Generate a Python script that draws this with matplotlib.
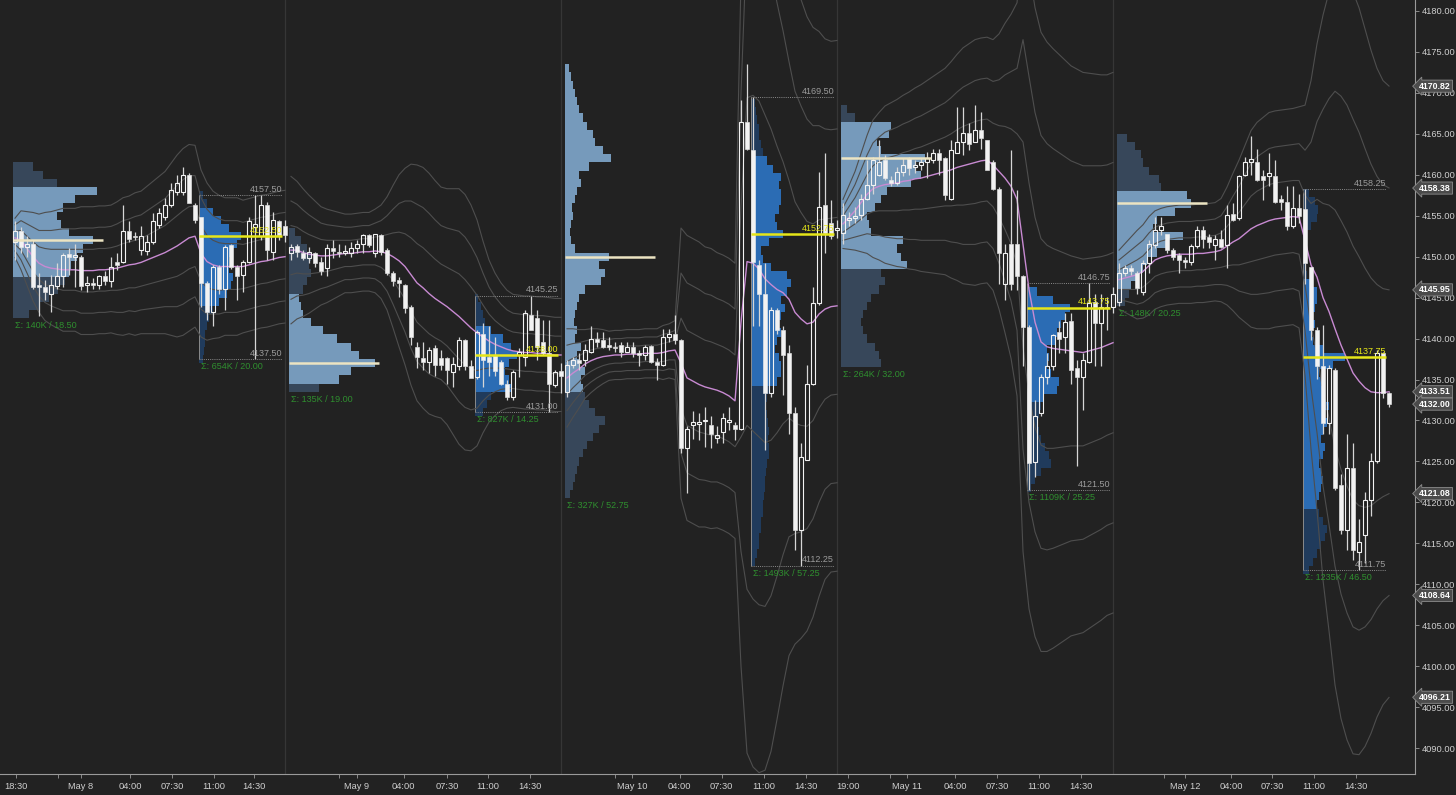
#!/usr/bin/env python3
"""
ES 30-minute chart, May 8 - May 12, with session volume profiles,
VWAP line and +/-1,2,3 deviation bands.
"""

import numpy as np
import matplotlib
matplotlib.use("Agg")
import matplotlib.pyplot as plt
from matplotlib.ticker import FormatStrFormatter

plt.rcParams['font.family'] = ['Liberation Sans', 'DejaVu Sans']

# ---------------------------------------------------------------- candles
# one bar every 30 min, bar index 0 = first bar of May 8 globex session
opens = [
    4151.8, 4153.1, 4151.2, 4151.6, 4146.5, 4146.3, 4145.5, 4146.4, 4147.6, 4150.3,
    4150.0, 4150.0, 4146.6, 4146.8, 4146.5, 4147.6, 4147.0, 4149.3, 4149.4, 4153.1,
    4152.5, 4150.8, 4150.7, 4151.8, 4153.9, 4154.9, 4156.3, 4157.9, 4157.9, 4160.0,
    4156.3, 4154.9, 4146.8, 4143.3, 4148.8, 4146.1, 4151.4, 4148.8, 4147.8, 4149.4,
    4153.6, 4152.5, 4156.3, 4150.6, 4154.3, 4153.7,
    4150.4, 4151.3, 4150.4, 4149.8, 4150.4, 4149.4, 4148.6, 4151.0, 4150.6, 4150.5,
    4150.4, 4151.0, 4151.6, 4152.6, 4150.4, 4152.6, 4150.8, 4148.0, 4147.2, 4146.5,
    4143.9, 4139.0, 4137.6, 4137.2, 4138.8, 4137.6, 4137.6, 4135.9, 4136.6, 4139.8,
    4136.6, 4135.3, 4140.6, 4137.8, 4138.0, 4137.2, 4134.5, 4132.9, 4138.0, 4137.8,
    4142.9, 4142.5, 4139.6, 4138.2, 4134.3, 4136.1,
    4133.5, 4136.8, 4137.4, 4137.4, 4138.4, 4140.0, 4139.8, 4139.2, 4139.0, 4139.2,
    4138.4, 4139.0, 4138.2, 4138.0, 4139.1, 4137.2, 4136.8, 4140.2, 4140.6, 4139.8,
    4126.6, 4129.4, 4129.6, 4129.9, 4129.4, 4127.9, 4128.6, 4129.8, 4129.4, 4129.0,
    4166.5, 4163.0, 4149.0, 4145.5, 4133.3, 4143.5, 4141.1, 4138.2, 4130.9, 4116.6,
    4125.2, 4134.5, 4144.3, 4156.3, 4154.1, 4153.3,
    4152.9, 4154.5, 4154.7, 4155.1, 4157.1, 4158.7, 4160.0, 4161.8, 4159.4, 4159.0,
    4160.4, 4162.0, 4161.0, 4161.2, 4161.6, 4161.8, 4162.6, 4162.0, 4157.1, 4162.6,
    4164.0, 4165.1, 4164.0, 4165.5, 4164.2, 4161.6, 4158.3, 4146.7, 4151.6, 4151.6,
    4147.6, 4141.4, 4124.9, 4130.9, 4135.3, 4136.6, 4140.8, 4140.2, 4142.2, 4136.4,
    4135.3, 4137.2, 4144.5, 4141.9, 4143.9, 4143.9,
    4144.5, 4148.0, 4148.6, 4148.0, 4145.7, 4149.2, 4151.4, 4153.3, 4152.8, 4150.8,
    4150.2, 4149.6, 4149.3, 4151.3, 4153.3, 4152.4, 4151.4, 4152.2, 4151.4, 4155.2,
    4154.7, 4160.0, 4161.6, 4161.6, 4159.8, 4159.8, 4159.8, 4157.1, 4156.7, 4153.7,
    4155.9, 4155.8, 4148.8, 4141.0, 4136.6, 4129.7, 4136.2, 4122.1, 4116.6, 4124.2,
    4114.0, 4116.0, 4120.3, 4125.0, 4138.2, 4133.3,
]
highs = [
    4154.3, 4153.6, 4152.5, 4152.0, 4148.0, 4147.2, 4147.8, 4149.2, 4150.4, 4151.0,
    4151.6, 4150.2, 4147.6, 4147.4, 4147.8, 4148.2, 4150.0, 4150.4, 4156.3, 4154.3,
    4153.0, 4153.7, 4152.7, 4155.3, 4156.0, 4157.2, 4159.0, 4160.0, 4161.0, 4160.2,
    4156.5, 4154.9, 4147.0, 4149.0, 4149.0, 4151.4, 4151.6, 4149.0, 4149.6, 4154.9,
    4157.5, 4157.5, 4156.7, 4155.5, 4154.5, 4154.5,
    4151.6, 4151.6, 4150.8, 4151.2, 4150.6, 4150.0, 4151.6, 4152.0, 4151.6, 4151.4,
    4151.8, 4152.0, 4152.8, 4152.8, 4152.8, 4152.8, 4151.0, 4148.2, 4147.5, 4146.7,
    4144.1, 4139.6, 4139.6, 4139.0, 4139.2, 4138.6, 4137.8, 4137.8, 4140.2, 4140.0,
    4137.4, 4141.0, 4141.9, 4141.5, 4140.2, 4137.4, 4134.9, 4136.2, 4138.9, 4143.5,
    4145.25, 4143.5, 4142.3, 4142.3, 4136.2, 4137.0,
    4137.4, 4137.8, 4138.2, 4139.4, 4141.5, 4140.8, 4140.8, 4140.2, 4139.6, 4139.6,
    4139.6, 4139.6, 4138.6, 4139.2, 4139.2, 4137.6, 4141.2, 4141.2, 4142.9, 4140.0,
    4129.3, 4131.1, 4130.9, 4131.7, 4130.5, 4129.3, 4130.9, 4131.7, 4129.8, 4169.1,
    4173.5, 4169.5, 4149.6, 4149.2, 4143.9, 4143.7, 4141.5, 4139.2, 4131.7, 4127.2,
    4136.8, 4146.3, 4160.4, 4162.6, 4156.9, 4154.5,
    4156.5, 4155.5, 4156.1, 4157.7, 4161.8, 4162.2, 4164.2, 4162.4, 4159.8, 4161.0,
    4162.0, 4162.2, 4161.8, 4162.0, 4162.8, 4163.2, 4163.2, 4162.2, 4164.2, 4168.3,
    4168.3, 4166.3, 4168.5, 4167.7, 4164.3, 4161.8, 4158.5, 4151.6, 4163.0, 4158.1,
    4147.8, 4141.6, 4132.5, 4135.7, 4138.2, 4140.6, 4142.2, 4143.1, 4143.1, 4137.4,
    4138.2, 4146.75, 4145.5, 4145.5, 4145.1, 4146.3,
    4149.2, 4149.0, 4149.0, 4148.2, 4149.6, 4152.0, 4154.9, 4154.9, 4152.8, 4151.0,
    4150.4, 4150.0, 4151.6, 4153.7, 4153.7, 4152.8, 4152.6, 4153.3, 4156.3, 4156.5,
    4160.0, 4162.2, 4164.7, 4163.2, 4160.6, 4162.6, 4161.8, 4157.5, 4158.6, 4158.6,
    4157.7, 4158.25, 4148.8, 4141.4, 4141.6, 4136.8, 4136.4, 4123.5, 4128.4, 4127.2,
    4118.0, 4121.3, 4126.0, 4138.6, 4138.4, 4133.5,
]
lows = [
    4149.6, 4150.5, 4150.0, 4146.1, 4142.7, 4144.7, 4143.3, 4146.1, 4146.3, 4147.8,
    4146.3, 4145.9, 4145.7, 4146.0, 4146.1, 4146.5, 4146.3, 4148.4, 4149.2, 4151.8,
    4152.0, 4150.2, 4150.2, 4151.6, 4153.5, 4154.5, 4156.1, 4157.5, 4157.5, 4156.5,
    4154.1, 4143.9, 4142.3, 4141.5, 4145.5, 4143.5, 4148.5, 4144.7, 4145.7, 4149.2,
    4137.5, 4152.0, 4149.6, 4149.6, 4152.0, 4151.8,
    4149.6, 4150.0, 4149.6, 4149.2, 4148.8, 4147.8, 4147.6, 4149.8, 4150.0, 4150.2,
    4150.0, 4150.4, 4150.4, 4151.2, 4150.0, 4150.2, 4147.8, 4146.4, 4145.1, 4143.1,
    4139.2, 4136.4, 4136.2, 4135.8, 4135.4, 4136.2, 4134.5, 4134.1, 4136.2, 4136.2,
    4135.2, 4135.1, 4134.1, 4135.4, 4135.4, 4134.3, 4132.5, 4132.5, 4135.3, 4136.6,
    4141.1, 4137.4, 4138.0, 4131.0, 4134.1, 4133.3,
    4132.9, 4136.4, 4136.2, 4136.6, 4138.2, 4139.0, 4138.8, 4138.6, 4138.4, 4137.8,
    4138.4, 4137.8, 4136.6, 4137.4, 4137.0, 4135.0, 4136.6, 4139.6, 4139.4, 4126.0,
    4121.1, 4127.8, 4127.6, 4126.8, 4126.6, 4127.2, 4127.2, 4128.8, 4127.6, 4128.8,
    4163.0, 4141.5, 4141.5, 4126.4, 4132.9, 4140.6, 4133.1, 4128.4, 4114.2, 4112.25,
    4125.2, 4134.3, 4144.1, 4150.4, 4152.1, 4152.3,
    4151.6, 4153.7, 4154.1, 4154.5, 4156.9, 4157.7, 4159.8, 4159.4, 4158.6, 4158.8,
    4159.9, 4160.0, 4160.2, 4160.6, 4159.6, 4161.4, 4160.0, 4156.9, 4156.9, 4162.6,
    4162.4, 4163.0, 4164.0, 4163.2, 4160.6, 4158.1, 4146.7, 4144.7, 4145.9, 4145.9,
    4136.6, 4121.5, 4123.1, 4130.5, 4134.5, 4136.2, 4138.2, 4138.2, 4134.5, 4124.4,
    4131.3, 4137.0, 4136.6, 4136.6, 4141.0, 4143.1,
    4144.0, 4147.6, 4147.8, 4145.5, 4145.3, 4148.0, 4151.0, 4152.6, 4150.4, 4149.6,
    4148.0, 4148.6, 4149.0, 4151.0, 4151.0, 4151.0, 4149.6, 4151.0, 4148.6, 4154.3,
    4154.5, 4159.8, 4160.0, 4159.2, 4156.9, 4158.6, 4156.5, 4155.7, 4153.3, 4153.5,
    4154.1, 4146.7, 4139.8, 4135.1, 4128.4, 4128.4, 4121.5, 4116.2, 4114.2, 4113.0,
    4111.75, 4112.6, 4118.3, 4124.8, 4132.7, 4131.7,
]
closes = [
    4153.1, 4151.2, 4151.6, 4146.3, 4146.3, 4145.7, 4146.5, 4147.6, 4150.2, 4150.0,
    4150.2, 4146.4, 4146.8, 4146.5, 4147.6, 4147.0, 4148.8, 4149.0, 4153.1, 4152.2,
    4152.4, 4152.5, 4151.8, 4154.3, 4155.3, 4156.3, 4158.1, 4159.0, 4160.0, 4156.5,
    4154.5, 4146.8, 4143.3, 4148.8, 4146.0, 4151.2, 4148.8, 4147.6, 4149.4, 4154.3,
    4154.0, 4156.3, 4150.8, 4154.5, 4152.7, 4152.7,
    4151.2, 4150.6, 4149.8, 4150.6, 4149.2, 4148.2, 4151.0, 4150.7, 4150.4, 4150.7,
    4151.0, 4151.6, 4152.6, 4151.4, 4152.8, 4150.6, 4148.0, 4147.0, 4146.8, 4143.7,
    4140.2, 4137.8, 4137.2, 4138.6, 4136.8, 4136.8, 4136.2, 4136.9, 4139.8, 4136.6,
    4135.2, 4140.8, 4137.4, 4137.2, 4136.0, 4134.5, 4132.9, 4135.9, 4138.4, 4143.1,
    4141.1, 4139.0, 4138.2, 4134.5, 4135.9, 4135.4,
    4136.8, 4137.4, 4137.0, 4138.6, 4140.0, 4139.6, 4139.0, 4139.0, 4138.8, 4138.4,
    4139.0, 4138.2, 4138.0, 4139.0, 4137.2, 4136.8, 4140.2, 4140.6, 4139.8, 4126.6,
    4129.0, 4129.8, 4129.8, 4130.0, 4128.4, 4128.2, 4130.3, 4130.0, 4129.0, 4166.5,
    4163.2, 4149.4, 4145.5, 4133.3, 4143.5, 4141.1, 4138.0, 4130.9, 4116.6, 4125.6,
    4134.5, 4144.3, 4156.1, 4152.9, 4152.5, 4153.5,
    4155.1, 4154.7, 4155.0, 4157.1, 4158.7, 4161.8, 4161.6, 4159.6, 4159.0, 4160.4,
    4161.2, 4160.8, 4161.2, 4161.6, 4162.0, 4162.6, 4161.8, 4157.5, 4163.0, 4164.0,
    4165.1, 4163.8, 4165.5, 4164.5, 4160.6, 4158.3, 4150.4, 4150.4, 4146.7, 4147.6,
    4141.4, 4124.8, 4130.5, 4135.3, 4136.6, 4140.4, 4140.0, 4142.0, 4136.2, 4135.3,
    4137.4, 4144.3, 4141.9, 4143.9, 4143.7, 4145.5,
    4148.0, 4148.6, 4148.2, 4146.2, 4149.2, 4151.6, 4153.3, 4153.8, 4150.8, 4150.0,
    4149.6, 4149.3, 4151.3, 4153.3, 4152.2, 4151.8, 4152.2, 4151.2, 4155.1, 4154.5,
    4159.8, 4161.6, 4161.9, 4159.4, 4159.4, 4160.2, 4156.7, 4156.7, 4153.7, 4155.9,
    4155.0, 4149.2, 4141.0, 4136.6, 4129.7, 4136.4, 4121.7, 4116.6, 4124.2, 4114.2,
    4115.2, 4120.3, 4125.0, 4138.2, 4133.3, 4132.0,
]

# ---------------------------------------------------------------- vwap + bands
vwap = [
    4152.3, 4152.0, 4151.0, 4150.0, 4149.2, 4148.8, 4148.6, 4148.5, 4148.4, 4148.4,
    4148.4, 4148.3, 4148.3, 4148.3, 4148.4, 4148.4, 4148.5, 4148.6, 4148.8, 4149.0,
    4149.1, 4149.3, 4149.6, 4149.9, 4150.2, 4150.5, 4150.9, 4151.3, 4151.8, 4152.3,
    4152.5, 4150.4, 4149.4, 4149.0, 4148.8, 4148.8, 4148.8, 4148.8, 4148.8, 4149.0,
    4149.2, 4149.4, 4149.5, 4149.7, 4149.9, 4150.0,
    4150.8, 4150.8, 4150.5, 4150.3, 4150.2, 4150.1, 4150.1, 4150.2, 4150.3, 4150.4,
    4150.4, 4150.5, 4150.6, 4150.6, 4150.7, 4150.6, 4150.4, 4150.0, 4149.5, 4148.8,
    4147.8, 4146.8, 4146.2, 4145.5, 4144.9, 4144.4, 4143.9, 4143.3, 4142.7, 4142.0,
    4141.3, 4140.7, 4140.2, 4139.7, 4139.3, 4139.0, 4138.7, 4138.5, 4138.4, 4138.3,
    4138.3, 4138.2, 4138.2, 4138.1, 4138.0, 4138.0,
    4135.2, 4135.8, 4136.3, 4136.9, 4137.3, 4137.6, 4137.8, 4137.9, 4138.0, 4138.0,
    4138.1, 4138.1, 4138.1, 4138.2, 4138.2, 4138.2, 4138.3, 4138.5, 4138.6, 4137.0,
    4135.2, 4134.8, 4134.4, 4134.1, 4133.9, 4133.7, 4133.4, 4133.0, 4132.4, 4142.0,
    4149.4, 4149.2, 4148.5, 4147.3, 4146.6, 4146.0, 4145.6, 4144.8, 4143.2, 4142.4,
    4141.8, 4142.0, 4143.0, 4143.6, 4143.9, 4144.0,
    4154.0, 4154.8, 4155.6, 4156.6, 4157.6, 4158.3, 4158.6, 4158.8, 4158.9, 4159.0,
    4159.2, 4159.3, 4159.5, 4159.6, 4159.8, 4160.0, 4160.2, 4160.4, 4160.6, 4160.9,
    4161.1, 4161.3, 4161.5, 4161.7, 4161.8, 4161.2, 4160.4, 4159.6, 4158.6, 4157.0,
    4151.5, 4146.0, 4142.0, 4139.6, 4139.0, 4138.8, 4138.7, 4138.6, 4138.5, 4138.4,
    4138.3, 4138.5, 4138.7, 4138.9, 4139.2, 4139.5,
    4147.2, 4147.4, 4147.6, 4147.8, 4148.2, 4148.9, 4149.6, 4149.9, 4150.1, 4150.2,
    4150.3, 4150.3, 4150.3, 4150.4, 4150.4, 4150.5, 4150.6, 4150.8, 4151.3, 4151.8,
    4152.2, 4152.8, 4153.4, 4153.8, 4154.1, 4154.4, 4154.6, 4154.7, 4154.8, 4154.9,
    4154.8, 4152.0, 4149.0, 4147.5, 4145.0, 4143.3, 4141.2, 4139.2, 4137.5, 4135.8,
    4134.8, 4134.0, 4133.5, 4133.4, 4133.4, 4133.51,
]
band_sd = [
    0.8, 1.2, 1.5, 1.8, 2.0, 2.2, 2.3, 2.4, 2.5, 2.5,
    2.5, 2.6, 2.6, 2.6, 2.6, 2.6, 2.6, 2.7, 2.8, 2.8,
    2.9, 2.9, 3.0, 3.1, 3.2, 3.3, 3.5, 3.7, 3.8, 3.8,
    3.7, 3.4, 3.2, 3.0, 2.9, 2.8, 2.8, 2.8, 2.7, 2.7,
    2.7, 2.7, 2.7, 2.7, 2.7, 2.7,
    3.0, 2.8, 2.6, 2.4, 2.2, 2.0, 1.9, 1.8, 1.7, 1.6,
    1.6, 1.6, 1.6, 1.6, 1.7, 1.9, 2.3, 2.9, 3.5, 4.0,
    4.5, 4.8, 4.9, 4.9, 4.8, 4.7, 4.8, 5.0, 5.2, 5.2,
    5.0, 4.6, 3.9, 3.3, 2.9, 2.6, 2.4, 2.3, 2.3, 2.3,
    2.3, 2.3, 2.3, 2.3, 2.3, 2.3,
    2.0, 1.8, 1.6, 1.4, 1.3, 1.2, 1.1, 1.0, 1.0, 1.0,
    1.0, 1.0, 1.0, 1.0, 1.0, 1.0, 1.1, 1.1, 1.2, 5.5,
    5.8, 5.8, 5.8, 5.7, 5.7, 5.6, 5.6, 5.6, 5.6, 14.0,
    20.0, 20.5, 20.5, 20.0, 19.0, 17.5, 16.0, 14.5, 13.5, 13.0,
    12.5, 12.0, 11.5, 11.0, 10.8, 10.8,
    1.0, 1.3, 1.6, 2.0, 2.4, 2.8, 3.0, 3.2, 3.3, 3.4,
    3.5, 3.6, 3.7, 3.8, 3.9, 4.0, 4.1, 4.2, 4.4, 4.6,
    4.8, 4.9, 5.0, 5.0, 5.0, 5.1, 5.6, 6.3, 7.0, 8.0,
    12.5, 13.0, 12.8, 12.6, 12.4, 12.2, 12.0, 11.8, 11.6, 11.5,
    11.4, 11.3, 11.2, 11.1, 11.0, 11.0,
    1.2, 1.4, 1.6, 1.8, 1.9, 2.0, 2.0, 2.0, 2.0, 2.0,
    2.0, 2.0, 2.0, 2.0, 2.0, 2.0, 2.0, 2.1, 2.4, 2.8,
    3.2, 3.6, 4.0, 4.2, 4.3, 4.4, 4.4, 4.4, 4.4, 4.4,
    4.5, 5.5, 7.5, 9.5, 11.5, 13.0, 14.5, 15.2, 15.5, 15.5,
    15.2, 14.6, 13.9, 13.2, 12.7, 12.44,
]

# ---------------------------------------------------------------- sessions
session_start = [0, 46, 92, 138, 184]      # first globex bar of each day
rth_start = [31, 77, 123, 169, 215]        # first RTH bar of each day

# overnight volume profiles (volume per 1-point row, lowest row first)
on_lo = [4143, 4134, 4121, 4137, 4144.5]
on_vol_may8 = [16, 26, 36, 45, 52, 56, 58, 64, 70, 80, 56, 48, 44, 50, 62, 84, 44, 30, 20]
on_vol_may9 = [30, 50, 62, 86, 70, 62, 48, 34, 22, 14, 12, 10, 14, 18, 22, 20, 22, 18, 12, 6]
on_vol_may10 = [5, 8, 10, 12, 14, 18, 22, 28, 34, 40,
                30, 24, 20, 18, 16, 20, 14, 12, 16, 10,
                12, 9, 10, 12, 14, 20, 36, 40, 34, 44,
                10, 6, 5, 6, 8, 7, 10, 12, 16, 14,
                24, 46, 38, 30, 28, 22, 18, 14, 12, 10,
                8, 6, 4]
on_vol_may11 = [40, 38, 34, 26, 22, 20, 22, 26, 30, 38, 44, 40, 66, 60, 56, 62,
                30, 28, 26, 34, 40, 46, 70, 80, 74, 84, 40, 36, 48, 50, 14, 6]
on_vol_may12 = [8, 12, 14, 22, 26, 30, 40, 50, 66, 36, 40, 58, 74, 70, 44, 42, 32, 26, 24, 18, 10]
on_va = [(4148, 4158), (4135, 4145), (4134, 4173), (4149, 4166), (4146.5, 4157.5)]
on_poc = [4152, 4137, 4150, 4162, 4156.5]
on_stats = ["Σ: 140K / 18.50", "Σ: 135K / 19.00", "Σ: 327K / 52.75",
            "Σ: 264K / 32.00", "Σ: 148K / 20.25"]

# regular-hours volume profiles
rth_lo_row = [4137.5, 4131, 4112.75, 4121.75, 4111.75]
rth_vol_may8 = [4, 5, 6, 6, 8, 10, 14, 20, 28, 32, 34, 30, 30, 34, 38, 42, 30, 22, 14, 8, 4]
rth_vol_may9 = [8, 12, 16, 36, 34, 30, 34, 42, 36, 28, 16, 10, 8, 6, 3]
rth_vol_may10 = [4, 6, 8, 8, 10, 10, 12, 12, 13, 14,
                 14, 15, 16, 18, 18, 17, 18, 17, 16, 15,
                 16, 18, 26, 30, 30, 28, 24, 26, 30, 26,
                 30, 34, 30, 36, 40, 36, 20, 12, 10, 18,
                 32, 26, 24, 28, 30, 30, 28, 30, 22, 16,
                 12, 10, 8, 8, 6, 5, 4]
rth_vol_may11 = [4, 8, 14, 24, 22, 18, 14, 12, 10, 12, 14, 16, 30, 32, 24, 20,
                 22, 20, 28, 30, 34, 38, 43, 26, 10]
rth_vol_may12 = [6, 10, 14, 18, 22, 24, 20, 16, 14, 16,
                 18, 20, 18, 16, 20, 22, 18, 20, 24, 22,
                 26, 22, 20, 18, 16, 30, 42, 20, 10, 8,
                 12, 10, 12, 14, 14, 10, 4, 3, 3, 4,
                 3, 4, 8, 14, 15, 12, 6]
rth_va = [(4144.5, 4155.5), (4134, 4141), (4134.75, 4161.75),
          (4132.75, 4145.75), (4119.75, 4146.75)]
rth_poc = [4152.50, 4138.00, 4152.75, 4143.75, 4137.75]
rth_high = [4157.50, 4145.25, 4169.50, 4146.75, 4158.25]
rth_low = [4137.50, 4131.00, 4112.25, 4121.50, 4111.75]
rth_stats = ["Σ: 654K / 20.00", "Σ: 827K / 14.25", "Σ: 1493K / 57.25",
             "Σ: 1109K / 25.25", "Σ: 1235K / 46.50"]

# ---------------------------------------------------------------- axes labels
xtick_pos = [0.2, 7.2, 11, 19.2, 26.2, 33.2, 39.8,
             54, 57, 64.8, 72, 78.8, 85.8,
             100, 102.8, 110.8, 117.8, 124.8, 131.8, 138.8,
             145.8, 148.7, 156.7, 163.7, 170.7, 177.7,
             191.5, 195, 202.7, 209.5, 216.5, 223.5]
xtick_labels = ["18:30", "", "May 8", "04:00", "07:30", "11:00", "14:30",
                "", "May 9", "04:00", "07:30", "11:00", "14:30",
                "", "May 10", "04:00", "07:30", "11:00", "14:30", "19:00",
                "", "May 11", "04:00", "07:30", "11:00", "14:30",
                "", "May 12", "04:00", "07:30", "11:00", "14:30"]
price_tags = [4170.82, 4158.38, 4145.95, 4133.51, 4132.00, 4121.08, 4108.64, 4096.21]

# ---------------------------------------------------------------- style
BG = '#222222'
PX_PER_BAR = 6.0
BOX_LEN = 13.8          # bars covered by the RTH range box
ON_POC_LEN = 15.0
ON_COLORS = ('#769abb', '#37475a')
RTH_COLORS = ('#2b6cb4', '#203b5c')
CANDLE = '#f2f2f2'
WICK = '#d6d6d6'
BAND = '#4e4e4e'
VWAP_C = '#c88ad2'
GREEN = '#2f8f2f'
GREY_TXT = '#9c9c9c'
YELLOW = '#e6e619'


def draw_profile(ax, x0, lo, vols, va, colors):
    """Horizontal volume histogram, value area in the lighter colour."""
    levels = lo + np.arange(len(vols))
    widths = np.asarray(vols, float) / PX_PER_BAR
    in_va = (levels >= va[0]) & (levels <= va[1])
    ax.barh(levels[in_va], widths[in_va], height=1.0, left=x0,
            color=colors[0], linewidth=0, zorder=1)
    ax.barh(levels[~in_va], widths[~in_va], height=1.0, left=x0,
            color=colors[1], linewidth=0, zorder=1)
    return levels


def draw_candles(ax):
    o, h, l, c = (np.asarray(a) for a in (opens, highs, lows, closes))
    x = np.arange(len(o))
    top = np.maximum(o, c)
    bot = np.minimum(o, c)
    body = np.maximum(top - bot, 0.12)
    ax.vlines(x, l, bot, color=WICK, lw=0.9, zorder=3)
    ax.vlines(x, top, h, color=WICK, lw=0.9, zorder=3)
    up = c >= o
    ax.bar(x[up], body[up], bottom=bot[up], width=0.7, fill=False,
           edgecolor=CANDLE, lw=0.8, zorder=4)
    ax.bar(x[~up], body[~up], bottom=bot[~up], width=0.7, color=CANDLE,
           edgecolor=CANDLE, lw=0.4, zorder=4)


def draw_vwap(ax):
    v = np.asarray(vwap)
    sd = np.asarray(band_sd)
    bounds = session_start + [len(v)]
    for a, b in zip(bounds[:-1], bounds[1:]):
        x = np.arange(a, b)
        for k in (1, 2, 3):
            ax.plot(x, v[a:b] + k * sd[a:b], color=BAND, lw=0.8, zorder=2)
            ax.plot(x, v[a:b] - k * sd[a:b], color=BAND, lw=0.8, zorder=2)
        ax.plot(x, v[a:b], color=VWAP_C, lw=1.0, zorder=2.5)


def main():
    fig = plt.figure(figsize=(14.56, 7.95), dpi=100, facecolor=BG)
    ax = fig.add_axes([0, 21 / 795, 1415 / 1456, 774 / 795], facecolor=BG)

    # session separators
    for s in session_start[1:]:
        ax.axvline(s - 1, color='#363636', lw=0.9, zorder=0)

    on_vols = [on_vol_may8, on_vol_may9, on_vol_may10, on_vol_may11, on_vol_may12]
    rth_vols = [rth_vol_may8, rth_vol_may9, rth_vol_may10, rth_vol_may11, rth_vol_may12]

    for i in range(5):
        # overnight profile
        x0 = session_start[i] - 0.3
        draw_profile(ax, x0, on_lo[i], on_vols[i], on_va[i], ON_COLORS)
        ax.plot([x0, x0 + ON_POC_LEN], [on_poc[i]] * 2, color='#ece4c2',
                lw=1.8, zorder=5, solid_capstyle='butt')
        ax.annotate(on_stats[i], xy=(x0, on_lo[i] - 0.5), xytext=(1, -2),
                    textcoords='offset points', ha='left', va='top',
                    color=GREEN, fontsize=6.5, zorder=6)

        # regular-hours profile
        x0 = rth_start[i] - 0.3
        x1 = x0 + BOX_LEN
        draw_profile(ax, x0, rth_lo_row[i], rth_vols[i], rth_va[i], RTH_COLORS)
        ax.vlines(x0, rth_low[i], rth_high[i], color='#8a8a8a', lw=0.7, zorder=2)
        for p in (rth_high[i], rth_low[i]):
            ax.plot([x0, x1], [p, p], color='#8a8a8a', lw=0.7,
                    ls=(0, (1, 1.2)), zorder=5)
            ax.annotate(f"{p:.2f}", xy=(x1, p), xytext=(0, 1),
                        textcoords='offset points', ha='right', va='bottom',
                        color=GREY_TXT, fontsize=6.5, zorder=6)
        ax.plot([x0, x1], [rth_poc[i]] * 2, color=YELLOW, lw=1.8, zorder=5,
                solid_capstyle='butt')
        ax.annotate(f"{rth_poc[i]:.2f}", xy=(x1, rth_poc[i]), xytext=(0, 1),
                    textcoords='offset points', ha='right', va='bottom',
                    color=YELLOW, fontsize=6.5, zorder=6)
        ax.annotate(rth_stats[i], xy=(x0, rth_low[i]), xytext=(1, -2),
                    textcoords='offset points', ha='left', va='top',
                    color=GREEN, fontsize=6.5, zorder=6)

    draw_vwap(ax)
    draw_candles(ax)

    # axes
    ax.set_xlim(-2.5, 233.33)
    ax.set_ylim(4086.84, 4181.34)
    ax.yaxis.tick_right()
    ax.set_yticks(np.arange(4090, 4181, 5))
    ax.yaxis.set_major_formatter(FormatStrFormatter('%.2f'))
    ax.set_xticks(xtick_pos)
    ax.set_xticklabels(xtick_labels)
    ax.tick_params(axis='both', colors='#9a9a9a', labelcolor='#cfcfcf',
                   labelsize=6.7, length=3, width=0.6)
    ax.tick_params(axis='y', pad=2)
    ax.tick_params(axis='x', pad=3)
    for side in ('top', 'left'):
        ax.spines[side].set_visible(False)
    for side in ('right', 'bottom'):
        ax.spines[side].set_color('#9a9a9a')
        ax.spines[side].set_linewidth(0.8)

    for v in price_tags:
        ax.annotate(f"{v:.2f}", xy=(1.0, v), xycoords=('axes fraction', 'data'),
                    xytext=(3, 0), textcoords='offset points', ha='left',
                    va='center', color='white', fontsize=6.3, fontweight='bold',
                    bbox=dict(boxstyle='larrow,pad=0.18', fc='#4b4b4b',
                              ec='#8c8c8c', lw=0.6),
                    annotation_clip=False, zorder=10)

    fig.savefig('out.png', dpi=100, facecolor=BG)
    plt.close(fig)


if __name__ == "__main__":
    main()
